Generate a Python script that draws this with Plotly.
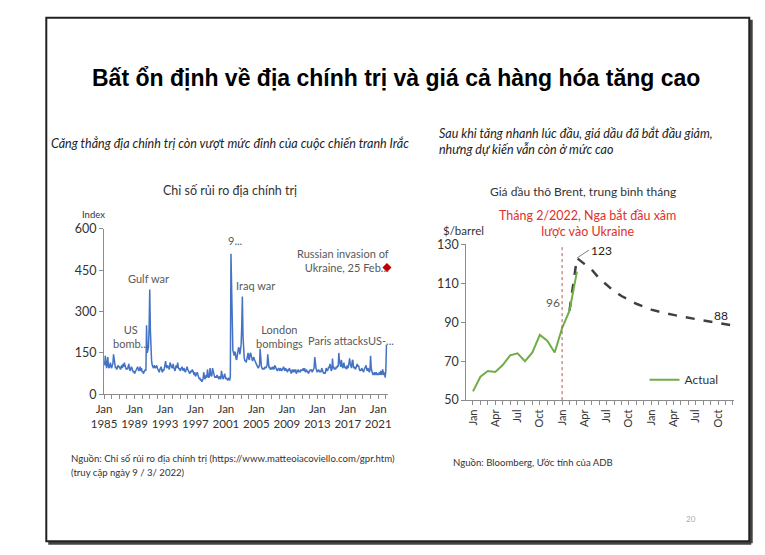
import plotly.graph_objects as go
import pandas as pd

W, H = 765, 555
def px(x): return x / W
def py(y): return 1 - y / H

# ---------------- Data: Geopolitical risk index (monthly, Jan 1985 - Feb 2022)
gpr_by_year = {
    1985: [120, 105, 140, 100, 95, 110, 135, 100, 95, 105, 115, 100],
    1986: [95, 105, 110, 145, 120, 100, 95, 100, 90, 95, 105, 100],
    1987: [100, 95, 90, 100, 105, 95, 110, 100, 115, 105, 95, 90],
    1988: [95, 90, 100, 110, 95, 85, 90, 100, 95, 90, 80, 85],
    1989: [75, 80, 85, 90, 95, 100, 90, 85, 90, 100, 85, 95],
    1990: [80, 85, 75, 80, 85, 90, 85, 250, 150, 160, 170, 240],
    1991: [380, 230, 140, 120, 105, 100, 95, 105, 100, 95, 100, 105],
    1992: [95, 90, 85, 80, 90, 95, 100, 85, 80, 90, 85, 95],
    1993: [110, 120, 100, 95, 105, 100, 95, 90, 115, 105, 100, 95],
    1994: [100, 110, 95, 90, 85, 100, 105, 95, 115, 100, 90, 95],
    1995: [85, 90, 95, 100, 90, 85, 95, 90, 80, 85, 95, 100],
    1996: [90, 85, 80, 75, 80, 85, 80, 90, 85, 75, 70, 80],
    1997: [65, 70, 75, 80, 70, 60, 55, 60, 50, 55, 45, 50],
    1998: [55, 80, 65, 55, 60, 70, 60, 90, 70, 60, 65, 95],
    1999: [75, 65, 70, 95, 85, 70, 65, 60, 65, 60, 70, 65],
    2000: [60, 55, 65, 60, 55, 85, 65, 60, 55, 70, 75, 65],
    2001: [55, 60, 55, 50, 55, 60, 50, 65, 510, 320, 200, 160],
    2002: [150, 140, 155, 150, 130, 125, 140, 160, 170, 165, 145, 160],
    2003: [180, 250, 355, 210, 150, 130, 120, 125, 115, 130, 140, 150],
    2004: [130, 125, 145, 150, 140, 125, 120, 130, 135, 125, 120, 115],
    2005: [110, 105, 100, 95, 100, 105, 165, 110, 100, 95, 90, 95],
    2006: [90, 95, 100, 95, 100, 105, 145, 120, 95, 100, 90, 95],
    2007: [95, 90, 100, 95, 90, 105, 100, 95, 90, 85, 90, 95],
    2008: [90, 85, 95, 90, 85, 90, 95, 100, 90, 85, 95, 90],
    2009: [85, 80, 90, 85, 95, 90, 80, 75, 85, 90, 80, 90],
    2010: [85, 80, 90, 75, 80, 85, 90, 80, 85, 80, 90, 85],
    2011: [90, 85, 95, 85, 95, 80, 85, 90, 80, 85, 75, 80],
    2012: [85, 90, 85, 90, 80, 85, 90, 95, 135, 100, 95, 85],
    2013: [80, 85, 90, 85, 80, 85, 80, 95, 90, 80, 75, 80],
    2014: [75, 80, 95, 90, 85, 90, 100, 95, 110, 100, 85, 90],
    2015: [130, 95, 100, 90, 95, 90, 100, 95, 105, 100, 150, 120],
    2016: [110, 100, 125, 105, 95, 100, 115, 100, 95, 100, 90, 105],
    2017: [95, 100, 110, 130, 110, 105, 95, 120, 125, 100, 95, 100],
    2018: [90, 95, 100, 110, 100, 105, 95, 85, 90, 85, 95, 90],
    2019: [85, 80, 90, 95, 100, 105, 90, 85, 95, 85, 80, 85],
    2020: [140, 95, 80, 75, 70, 75, 80, 70, 75, 80, 70, 75],
    2021: [70, 75, 80, 70, 85, 75, 70, 90, 75, 70, 80, 60],
    2022: [85, 180],
}
gpr_values = [v for yr in sorted(gpr_by_year) for v in gpr_by_year[yr]]
gpr_dates = pd.date_range("1985-01-01", periods=len(gpr_values), freq="MS")
invasion_date = ["2022-02-25"]
invasion_value = [460]

gpr_tick_years = list(range(1985, 2022, 4))
gpr_yticks = [0, 150, 300, 450, 600]

# ---------------- Data: Brent oil price (monthly, Jan 2021 - Dec 2023)
months = ["Jan", "Feb", "Mar", "Apr", "May", "Jun", "Jul", "Aug", "Sep", "Oct", "Nov", "Dec"] * 3
brent_actual = [54.5, 62, 65, 64.5, 68, 73, 74, 70, 74.5, 83.5, 80.5, 74.5, 87, 96, 116]
brent_forecast_idx = list(range(13, 36))
brent_forecast = [96, 123, 120, 117, 112.5, 109, 106, 103.5, 101.5, 99.5, 98, 96.5, 95.5,
                  94.5, 93.8, 93, 92.3, 91.7, 91, 90.3, 89.5, 89, 88.3]
brent_yticks = [50, 70, 90, 110, 130]
invasion_month_idx = 12

FONT = "Lato"
GRAY = "#595959"
BLUE = "#4472C4"
GREEN = "#70AD47"

fig = go.Figure()

fig.add_trace(go.Scatter(x=gpr_dates, y=gpr_values, mode="lines",
                         line=dict(color=BLUE, width=1.5), xaxis="x", yaxis="y",
                         showlegend=False))
fig.add_trace(go.Scatter(x=invasion_date, y=invasion_value, mode="markers",
                         marker=dict(color="#C00000", symbol="diamond", size=7),
                         xaxis="x", yaxis="y", showlegend=False, cliponaxis=False))

x_idx = list(range(len(brent_actual)))
fig.add_trace(go.Scatter(x=brent_forecast_idx, y=brent_forecast, mode="lines",
                         line=dict(color="#404040", width=2.5, dash="dash"),
                         xaxis="x2", yaxis="y2", showlegend=False))
fig.add_trace(go.Scatter(x=x_idx, y=brent_actual, mode="lines",
                         line=dict(color=GREEN, width=2), name="Actual",
                         xaxis="x2", yaxis="y2", showlegend=True))

axis_common = dict(showline=True, linecolor="#8C8C8C", linewidth=1, ticks="outside",
                   ticklen=4, tickcolor="#8C8C8C", showgrid=False, zeroline=False)

right_ticktext = [m if i % 3 == 0 else "" for i, m in enumerate(months)]

fig.update_layout(
    width=W, height=H, margin=dict(l=0, r=0, t=0, b=0),
    paper_bgcolor="white", plot_bgcolor="white",
    font=dict(family=FONT, color="#333333", size=11),
    xaxis=dict(domain=[px(93), px(383)], type="date",
               range=["1985-01-01", "2022-04-15"],
               tickvals=[f"{y}-01-01" for y in gpr_tick_years],
               ticktext=[f"Jan<br>{y}" for y in gpr_tick_years],
               tickangle=0, tickfont=dict(size=11.5, color="#333333"),
               minor=dict(dtick="M12", ticks="outside", ticklen=4, tickcolor="#8C8C8C"),
               anchor="y", **axis_common),
    yaxis=dict(domain=[py(397), py(227)], range=[0, 600], tickvals=gpr_yticks,
               tickfont=dict(size=12.5, color="#333333"), anchor="x", **axis_common),
    xaxis2=dict(domain=[px(463), px(736)], range=[-0.9, 35.1],
                tickvals=list(range(36)), ticktext=right_ticktext, tickangle=-90,
                tickfont=dict(size=11, color="#333333"), anchor="y2", **axis_common),
    yaxis2=dict(domain=[py(403), py(243)], range=[50, 130], tickvals=brent_yticks,
                tickfont=dict(size=12.5, color="#333333"), anchor="x2", **axis_common),
    legend=dict(x=px(645), y=py(382), xanchor="left", yanchor="middle",
                bgcolor="rgba(0,0,0,0)", font=dict(size=12, color="#333333"),
                itemwidth=30),
)

# Red dotted vertical line at invasion month
fig.add_shape(type="line", xref="x2", yref="y2", x0=invasion_month_idx, x1=invasion_month_idx,
              y0=50, y1=130, line=dict(color="#C0504D", width=1, dash="dot"))

# Slide frame
fig.add_shape(type="line", xref="paper", yref="paper", x0=px(36), x1=px(754), y0=py(550), y1=py(550),
              line=dict(color="#444444", width=3))
fig.add_shape(type="line", xref="paper", yref="paper", x0=px(754), x1=px(754), y0=py(12), y1=py(550),
              line=dict(color="#444444", width=3))
fig.add_shape(type="rect", xref="paper", yref="paper", x0=px(34), x1=px(752), y0=py(548), y1=py(10),
              line=dict(color="#222222", width=2))

def note(x, y, text, size=11, color=GRAY, xanchor="center", align="center", **kw):
    fig.add_annotation(x=px(x), y=py(y), xref="paper", yref="paper", text=text,
                       showarrow=False, xanchor=xanchor, yanchor="middle", align=align,
                       font=dict(size=size, color=color, family=kw.pop("family", FONT)), **kw)

# Titles
note(391, 72, "<b>Bất ổn định về địa chính trị và giá cả hàng hóa tăng cao</b>", size=23,
     color="#000000", family="Liberation Sans")
note(37, 139, "<i>Căng thẳng địa chính trị còn vượt mức đỉnh của cuộc chiến tranh Irắc</i>",
     size=12.5, color="#222222", xanchor="left", align="left")
note(433, 137, "<i>Sau khi tăng nhanh lúc đầu, giá dầu đã bắt đầu giảm,<br>nhưng dự kiến vẫn còn ở mức cao</i>",
     size=12.5, color="#222222", xanchor="left", align="left")
note(222, 188, "Chỉ số rủi ro địa chính trị", size=12.5, color="#333333")
note(582, 189, "Giá dầu thô Brent, trung bình tháng", size=12, color="#333333")
note(82, 212, "Index", size=9.5, color="#333333")
note(460, 229, "$/barrel", size=11.5, color="#333333")
note(587, 221, "Tháng 2/2022, Nga bắt đầu xâm<br>lược vào Ukraine", size=12.5, color="#E0302A")

# Left chart labels
note(120, 338, "US<br>bomb...")
note(138, 278, "Gulf war")
note(227, 239, "9...")
note(248, 285, "Iraq war")
note(272, 338, "London<br>bombings")
note(345, 342, "Paris attacksUS-...")
note(386, 259, "Russian invasion of<br>Ukraine, 25 Feb...", xanchor="right", align="right")

# Right chart labels
note(552, 303, "96", size=12)
fig.add_annotation(x=14, y=123, xref="x2", yref="y2", text="123", showarrow=True,
                   arrowhead=0, arrowwidth=1, arrowcolor="#7F7F7F", ax=12, ay=-8,
                   xanchor="left", font=dict(size=12, color="#222222", family=FONT))
note(723, 316, "88", size=12, color="#222222")

# Sources
note(57, 463, "Nguồn: Chỉ số rủi ro địa chính trị (https://www.matteoiacoviello.com/gpr.htm)",
     size=9.6, color="#333333", xanchor="left", align="left")
note(57, 477, "(truy cập ngày 9 / 3/ 2022)", size=9.6, color="#333333", xanchor="left", align="left")
note(447, 467, "Nguồn: Bloomberg, Ước tính của ADB", size=9.6, color="#333333",
     xanchor="left", align="left")
note(692, 525, "20", size=8, color="#AAAAAA")

fig.write_html("out.html")
